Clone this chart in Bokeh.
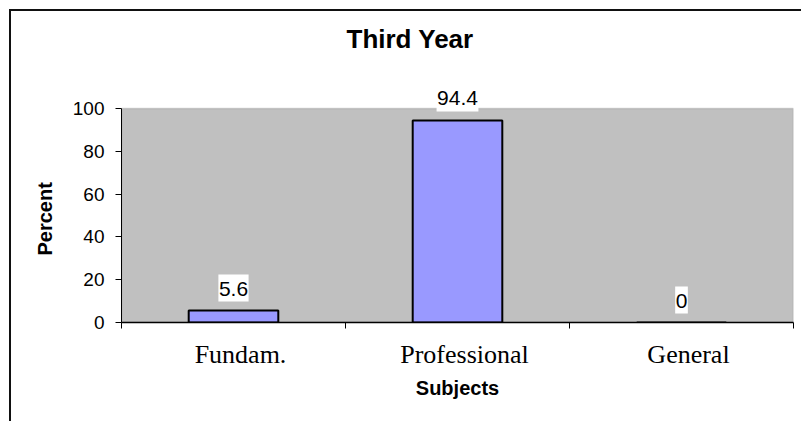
from bokeh.plotting import figure
from bokeh.models import (ColumnDataSource, Label, BoxAnnotation, FixedTicker,
                          Range1d, Title)
from bokeh.embed import file_html
from bokeh.resources import INLINE
import numpy as np

# ---- data ----
categories = ["Fundam.", "Professional", "General"]
percent = [5.6, 94.4, 0]
y_ticks = [0, 20, 40, 60, 80, 100]
title_text = "Third Year"
x_label = "Subjects"
y_label = "Percent"

# ---- layout constants (pixels) ----
W, H = 801, 421
frame_left, frame_right, frame_top, frame_bottom = 121, 793, 62, 322
px_per_100 = 214.0
y_end = 100.0 * (frame_bottom - frame_top) / px_per_100
label_shift = 7.0 / ((frame_right - frame_left) / len(categories))
label_font_px = 21
label_gap_px = 22.5

centers = np.arange(len(categories)) + 0.5
bounds = list(np.arange(len(categories) + 1).astype(float))
label_pos = [float(c + label_shift) for c in centers]
texts = [f"{v:g}" for v in percent]

src = ColumnDataSource(dict(
    x=centers,
    top=percent,
))

# white label boxes (sized from the text, placed above each bar top)
box_src = ColumnDataSource(dict(
    x=centers,
    y=[v + label_gap_px * 100.0 / px_per_100 for v in percent],
    w=[sum(0.278 if ch == "." else 0.556 for ch in s) * label_font_px + 1 for s in texts],
))

p = figure(width=W, height=H, output_backend="svg", toolbar_location=None,
           x_range=Range1d(0, len(categories)), y_range=Range1d(0, y_end),
           min_border_left=frame_left, min_border_right=W - frame_right,
           min_border_top=frame_top, min_border_bottom=H - frame_bottom,
           background_fill_color="white", border_fill_color="white",
           outline_line_color=None, title=None)

# outer chart border (only left/top edges are inside the window)
p.stylesheets = [
    ":host::after { content: ''; position: absolute; left: 9px; top: 9px; "
    "width: 2000px; height: 2000px; border-left: 2px solid #111; "
    "border-top: 2px solid #111; pointer-events: none; z-index: 100; }"
]

t = Title(text=title_text, align="left", offset=225, standoff=18,
          text_font="Liberation Sans", text_font_size="26px", text_font_style="bold",
          text_color="black")
p.add_layout(t, "above")

# gray plot area (0..100)
p.add_layout(BoxAnnotation(bottom=0, top=100, fill_color="#C0C0C0", fill_alpha=1.0,
                           line_color="#808080", line_width=1.5, level="underlay"))

p.vbar(x="x", top="top", bottom=0, width=0.4, source=src,
       fill_color="#9999FF", line_color="black", line_width=2)

p.rect(x="x", y="y", width="w", height=27, width_units="screen", height_units="screen",
       source=box_src, fill_color="white", line_color=None)

# data labels
for xc, v, s in zip(centers, percent, texts):
    p.add_layout(Label(x=float(xc), y=v, text=s, y_offset=22,
                       text_align="center", text_baseline="middle",
                       text_font="Liberation Sans", text_font_size=f"{label_font_px}px",
                       text_color="black"))

p.xgrid.visible = False
p.ygrid.visible = False

# x axis: labels at centers, ticks at category boundaries (minor ticks)
xa = p.xaxis[0]
xa.ticker = FixedTicker(ticks=label_pos, minor_ticks=bounds)
xa.major_label_overrides = {pos: n for pos, n in zip(label_pos, categories)}
xa.major_tick_line_color = None
xa.minor_tick_line_color = "black"
xa.minor_tick_out = 6
xa.minor_tick_in = 0
xa.axis_line_color = "black"
xa.axis_line_width = 1.5
xa.major_label_text_font = "Liberation Serif"
xa.major_label_text_font_size = "26px"
xa.major_label_text_color = "black"
xa.major_label_standoff = 11
xa.axis_label = x_label
xa.axis_label_text_font = "Liberation Sans"
xa.axis_label_text_font_size = "20px"
xa.axis_label_text_font_style = "bold"
xa.axis_label_text_color = "black"
xa.axis_label_standoff = 5

ya = p.yaxis[0]
ya.ticker = FixedTicker(ticks=y_ticks, minor_ticks=[])
ya.bounds = (0, 100)
ya.major_tick_out = 6
ya.major_tick_in = 0
ya.major_tick_line_color = "black"
ya.minor_tick_line_color = None
ya.axis_line_color = "black"
ya.major_label_text_font = "Liberation Sans"
ya.major_label_text_font_size = "19px"
ya.major_label_text_color = "black"
ya.major_label_standoff = 11

# y axis title, centred on the 0..100 span
yt = Title(text=y_label, align="left", offset=67, standoff=28, vertical_align="bottom",
           text_font="Liberation Sans", text_font_size="20px", text_font_style="bold",
           text_color="black")
p.add_layout(yt, "left")

open("out.html", "w").write(file_html(p, INLINE))
